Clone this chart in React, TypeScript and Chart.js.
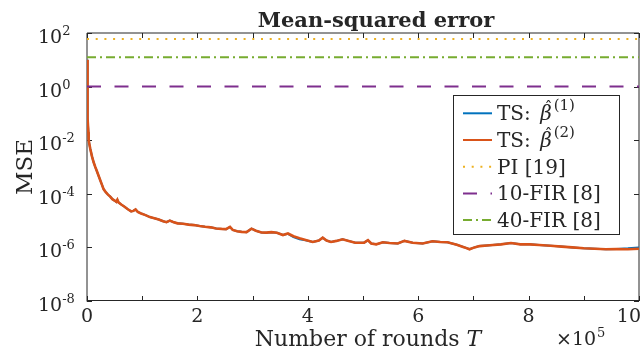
import React, { useEffect, useRef } from 'react';
import { Chart, registerables } from 'chart.js';

Chart.register(...registerables);

// ---------- data (x in units of 10^5 rounds) ----------
const roundsE5 = [
  0, 0.004, 0.008, 0.012, 0.018, 0.025, 0.03, 0.045, 0.06, 0.09,
  0.12, 0.15, 0.18, 0.21, 0.24, 0.27, 0.30, 0.34, 0.38, 0.42,
  0.46, 0.50, 0.53, 0.55, 0.57, 0.62, 0.68, 0.74, 0.80, 0.84,
  0.88, 0.92, 0.98, 1.06, 1.14, 1.22, 1.30, 1.38, 1.44, 1.50,
  1.56, 1.64, 1.74, 1.84, 1.94, 2.04, 2.14, 2.24, 2.34, 2.44,
  2.52, 2.59, 2.64, 2.72, 2.80, 2.89, 2.98, 3.06, 3.16, 3.25,
  3.34, 3.44, 3.55, 3.64, 3.74, 3.85, 3.96, 4.09, 4.20, 4.27,
  4.34, 4.42, 4.52, 4.63, 4.74, 4.86, 4.94, 5.02, 5.09, 5.15,
  5.24, 5.36, 5.48, 5.63, 5.75, 5.90, 6.08, 6.26, 6.40, 6.53,
  6.70, 6.84, 6.93, 7.02, 7.11, 7.30, 7.50, 7.68, 7.85, 8.02,
  8.19, 8.40, 8.60, 8.79, 9.00, 9.20, 9.40, 9.60, 9.80, 10.0,
];

const mseTsBeta2 = [
  1e1, 2.0, 0.63, 0.32, 0.063, 0.02, 0.01, 6.8e-3, 4.7e-3, 2.5e-3,
  1.5e-3, 1.0e-3, 6.9e-4, 4.7e-4, 3.2e-4, 2.2e-4, 1.5e-4, 1.15e-4, 9.3e-5, 7.9e-5,
  6.3e-5, 5.6e-5, 5.0e-5, 6.0e-5, 4.8e-5, 4.0e-5, 3.3e-5, 2.65e-5, 2.2e-5, 2.3e-5,
  2.6e-5, 2.1e-5, 1.85e-5, 1.6e-5, 1.35e-5, 1.22e-5, 1.1e-5, 9.5e-6, 8.7e-6, 1.0e-5,
  8.9e-6, 7.9e-6, 7.6e-6, 7.1e-6, 6.8e-6, 6.3e-6, 5.9e-6, 5.6e-6, 5.1e-6, 4.9e-6,
  4.8e-6, 5.8e-6, 4.5e-6, 4.0e-6, 3.8e-6, 3.7e-6, 5.0e-6, 4.2e-6, 3.6e-6, 3.55e-6,
  3.7e-6, 3.5e-6, 2.9e-6, 3.3e-6, 2.6e-6, 2.2e-6, 1.9e-6, 1.6e-6, 1.8e-6, 2.3e-6,
  1.8e-6, 1.6e-6, 1.75e-6, 2.0e-6, 1.75e-6, 1.5e-6, 1.5e-6, 1.5e-6, 1.85e-6, 1.4e-6,
  1.3e-6, 1.55e-6, 1.45e-6, 1.4e-6, 1.75e-6, 1.5e-6, 1.4e-6, 1.7e-6, 1.6e-6, 1.55e-6,
  1.26e-6, 1.0e-6, 8.5e-7, 1.0e-6, 1.12e-6, 1.2e-6, 1.3e-6, 1.45e-6, 1.3e-6, 1.3e-6,
  1.23e-6, 1.15e-6, 1.07e-6, 1.0e-6, 9.3e-7, 8.9e-7, 8.5e-7, 8.7e-7, 8.5e-7, 8.9e-7,
];

const mseTsBeta1 = [
  1e1, 2.0, 0.63, 0.32, 0.063, 0.02, 0.01, 6.8e-3, 4.7e-3, 2.5e-3,
  1.5e-3, 1.0e-3, 6.9e-4, 4.7e-4, 3.2e-4, 2.2e-4, 1.5e-4, 1.15e-4, 9.3e-5, 7.9e-5,
  6.3e-5, 5.6e-5, 5.0e-5, 6.0e-5, 4.8e-5, 4.0e-5, 3.3e-5, 2.65e-5, 2.2e-5, 2.3e-5,
  2.6e-5, 2.1e-5, 1.85e-5, 1.6e-5, 1.35e-5, 1.22e-5, 1.1e-5, 9.5e-6, 8.7e-6, 1.0e-5,
  8.9e-6, 7.9e-6, 7.6e-6, 7.1e-6, 6.8e-6, 6.3e-6, 5.9e-6, 5.6e-6, 5.1e-6, 4.9e-6,
  4.8e-6, 5.8e-6, 4.5e-6, 4.0e-6, 3.8e-6, 3.7e-6, 5.0e-6, 4.2e-6, 3.6e-6, 3.55e-6,
  3.7e-6, 3.5e-6, 2.9e-6, 3.2e-6, 2.4e-6, 2.0e-6, 1.85e-6, 1.6e-6, 1.8e-6, 2.3e-6,
  1.8e-6, 1.6e-6, 1.75e-6, 2.0e-6, 1.75e-6, 1.5e-6, 1.5e-6, 1.5e-6, 1.85e-6, 1.4e-6,
  1.3e-6, 1.55e-6, 1.45e-6, 1.4e-6, 1.75e-6, 1.5e-6, 1.4e-6, 1.7e-6, 1.6e-6, 1.55e-6,
  1.26e-6, 1.0e-6, 8.5e-7, 1.0e-6, 1.12e-6, 1.2e-6, 1.3e-6, 1.45e-6, 1.3e-6, 1.3e-6,
  1.23e-6, 1.15e-6, 1.07e-6, 1.0e-6, 9.3e-7, 8.9e-7, 8.5e-7, 8.7e-7, 9.2e-7, 1.0e-6,
];

const constantX = [0, 10];
const msePI = [60, 60];
const mseFir10 = [1.0, 1.0];
const mseFir40 = [12.5, 12.5];

const seriesLabels = ['TS: β\u0302⁽¹⁾', 'TS: β\u0302⁽²⁾', 'PI [19]', '10-FIR [8]', '40-FIR [8]'];

const xTickValues = [0, 1, 2, 3, 4, 5, 6, 7, 8, 9, 10];
const xTickLabels = ['0', '', '2', '', '4', '', '6', '', '8', '', '10'];
const yTickValues = [1e2, 1e0, 1e-2, 1e-4, 1e-6, 1e-8];
const yTickExponents = ['2', '0', '-2', '-4', '-6', '-8'];

const titleText = 'Mean-squared error';
const xAxisLabel = 'Number of rounds ';
const xAxisVar = 'T';
const yAxisLabel = 'MSE';
const xMultiplierBase = '×10';
const xMultiplierExp = '5';

// ---------- styling ----------
const FONT = '"DejaVu Serif", serif';
const TEXT = '#262626';
const AXIS = '#262626';

const supMap: Record<string, string> = { '⁽': '(', '⁾': ')', '¹': '1', '²': '2', '³': '3' };

const axesPlugin = {
  id: 'matlabAxes',
  beforeDatasetsDraw(chart: any) {
    const { ctx, chartArea: a, scales } = chart;
    const xs = scales.x;
    const ys = scales.y;
    ctx.save();
    ctx.strokeStyle = AXIS;
    ctx.lineWidth = 1;
    ctx.beginPath();
    ctx.moveTo(a.left, a.top);
    ctx.lineTo(a.right, a.top);
    ctx.moveTo(a.right, a.top);
    ctx.lineTo(a.right, a.bottom);
    ctx.moveTo(a.left, a.top);
    ctx.lineTo(a.left, a.bottom + 0.5);
    ctx.stroke();
    ctx.beginPath();
    ctx.moveTo(a.left, a.bottom - 0.5);
    ctx.lineTo(a.right, a.bottom - 0.5);
    ctx.stroke();
    const tl = 5;
    ctx.beginPath();
    xTickValues.forEach((v) => {
      const px = Math.round(xs.getPixelForValue(v)) + 0.5;
      ctx.moveTo(px, a.bottom);
      ctx.lineTo(px, a.bottom - tl);
      ctx.moveTo(px, a.top);
      ctx.lineTo(px, a.top + tl);
    });
    yTickValues.forEach((v) => {
      const py = Math.round(ys.getPixelForValue(v)) + 0.5;
      ctx.moveTo(a.left, py);
      ctx.lineTo(a.left + tl, py);
      ctx.moveTo(a.right, py);
      ctx.lineTo(a.right - tl, py);
    });
    ctx.stroke();
    ctx.restore();
  },
  afterDatasetsDraw(chart: any) {
    const { ctx, chartArea: a, scales, width } = chart;
    const xs = scales.x;
    const ys = scales.y;
    ctx.save();
    ctx.fillStyle = TEXT;
    ctx.textBaseline = 'alphabetic';

    // x tick labels
    ctx.font = `19px ${FONT}`;
    ctx.textAlign = 'center';
    xTickValues.forEach((v, i) => {
      const lab = xTickLabels[i];
      if (!lab) return;
      const w = ctx.measureText(lab).width;
      let px = xs.getPixelForValue(v);
      px = Math.min(px, width - w / 2 - 1);
      ctx.fillText(lab, px, a.bottom + 21);
    });

    // y tick labels 10^k
    ctx.textAlign = 'left';
    yTickValues.forEach((v, i) => {
      const py = ys.getPixelForValue(v);
      ctx.font = `19px ${FONT}`;
      ctx.fillText('10', 38, py + 10);
      const w = ctx.measureText('10').width;
      ctx.font = `13px ${FONT}`;
      ctx.fillText(yTickExponents[i], 38 + w, py + 2);
    });

    // x multiplier
    ctx.font = `19px ${FONT}`;
    ctx.fillText(xMultiplierBase, 556, a.bottom + 44);
    const mw = ctx.measureText(xMultiplierBase).width;
    ctx.font = `13px ${FONT}`;
    ctx.fillText(xMultiplierExp, 556 + mw + 1, a.bottom + 36);

    // x axis label
    ctx.font = `22px ${FONT}`;
    const w1 = ctx.measureText(xAxisLabel).width;
    ctx.font = `italic 22px ${FONT}`;
    const w2 = ctx.measureText(xAxisVar).width;
    const cx = 368;
    ctx.font = `22px ${FONT}`;
    ctx.fillText(xAxisLabel, cx - (w1 + w2) / 2, 346);
    ctx.font = `italic 22px ${FONT}`;
    ctx.fillText(xAxisVar, cx - (w1 + w2) / 2 + w1, 346);

    // y axis label
    ctx.save();
    ctx.translate(32, (a.top + a.bottom) / 2);
    ctx.rotate(-Math.PI / 2);
    ctx.textAlign = 'center';
    ctx.font = `23px ${FONT}`;
    ctx.fillText(yAxisLabel, 0, 0);
    ctx.restore();

    // title
    ctx.textAlign = 'center';
    ctx.font = `bold 21px ${FONT}`;
    ctx.fillText(titleText, 376, 27);

    // legend
    const lx = 453.5, ly = 95.5, lw = 166, lh = 139;
    ctx.fillStyle = '#ffffff';
    ctx.fillRect(lx, ly, lw, lh);
    ctx.strokeStyle = AXIS;
    ctx.lineWidth = 1;
    ctx.setLineDash([]);
    ctx.strokeRect(lx, ly, lw, lh);
    ctx.textAlign = 'left';
    chart.data.datasets.forEach((ds: any, i: number) => {
      const cy = 113.3 + i * 26.7;
      ctx.save();
      ctx.beginPath();
      ctx.strokeStyle = ds.borderColor;
      ctx.lineWidth = Math.min(ds.borderWidth, 2);
      ctx.setLineDash(ds.borderDash || []);
      ctx.moveTo(463, cy);
      ctx.lineTo(492, cy);
      ctx.stroke();
      ctx.restore();
      ctx.fillStyle = TEXT;
      const label: string = ds.label;
      const base = cy + 7;
      const tx = 497;
      const hatIdx = label.indexOf('\u0302');
      if (hatIdx > 0) {
        const prefix = label.slice(0, hatIdx - 1);
        const sym = label.charAt(hatIdx - 1);
        const sup = label
          .slice(hatIdx + 1)
          .split('')
          .map((c) => supMap[c] ?? c)
          .join('');
        ctx.font = `20px ${FONT}`;
        ctx.fillText(prefix, tx, base);
        let x = tx + ctx.measureText(prefix).width + 3;
        ctx.font = `italic 20px ${FONT}`;
        ctx.fillText(sym, x, base);
        const sw = ctx.measureText(sym).width;
        ctx.font = `16px ${FONT}`;
        ctx.textAlign = 'center';
        ctx.fillText('\u02C6', x + sw / 2 + 2.5, base - 7);
        ctx.textAlign = 'left';
        x += sw + 2;
        ctx.font = `15px ${FONT}`;
        ctx.fillText(sup, x, base - 10);
      } else {
        ctx.font = `20px ${FONT}`;
        ctx.fillText(label, tx, base);
      }
    });

    ctx.restore();
  },
};

function points(xsArr: number[], ysArr: number[]) {
  return xsArr.map((x, i) => ({ x, y: ysArr[i] }));
}

export default function App() {
  const canvasRef = useRef<HTMLCanvasElement | null>(null);

  useEffect(() => {
    document.body.style.margin = '0';
    const canvas = canvasRef.current;
    if (!canvas) return;
    const chart = new Chart(canvas, {
      type: 'line',
      data: {
        datasets: [
          {
            label: seriesLabels[0],
            data: points(roundsE5, mseTsBeta1),
            borderColor: '#0072BD',
            borderWidth: 2,
            order: 2,
          },
          {
            label: seriesLabels[1],
            data: points(roundsE5, mseTsBeta2),
            borderColor: '#D95319',
            borderWidth: 2.6,
            order: 1,
          },
          {
            label: seriesLabels[2],
            data: points(constantX, msePI),
            borderColor: '#EDB120',
            borderWidth: 2,
            borderDash: [2, 6.7],
            order: 0,
          },
          {
            label: seriesLabels[3],
            data: points(constantX, mseFir10),
            borderColor: '#7E2F8E',
            borderWidth: 2,
            borderDash: [14, 13.5],
            order: 0,
          },
          {
            label: seriesLabels[4],
            data: points(constantX, mseFir40),
            borderColor: '#77AC30',
            borderWidth: 2,
            borderDash: [9, 4, 2, 4],
            order: 0,
          },
        ],
      } as any,
      options: {
        animation: false,
        responsive: false,
        devicePixelRatio: 1,
        layout: { padding: { left: 87, top: 33, right: 3, bottom: 57 } },
        elements: { point: { radius: 0 }, line: { tension: 0, fill: false } },
        plugins: {
          legend: { display: false },
          title: { display: false },
          tooltip: { enabled: false },
        },
        scales: {
          x: { type: 'linear', min: 0, max: 10, display: false },
          y: { type: 'logarithmic', min: 1e-8, max: 1e2, display: false },
        },
      } as any,
      plugins: [axesPlugin],
    });
    return () => chart.destroy();
  }, []);

  return (
    <div style={{ position: 'absolute', left: 0, top: 0, width: 642, height: 358 }}>
      <canvas ref={canvasRef} width={642} height={358} style={{ display: 'block' }} />
    </div>
  );
}
